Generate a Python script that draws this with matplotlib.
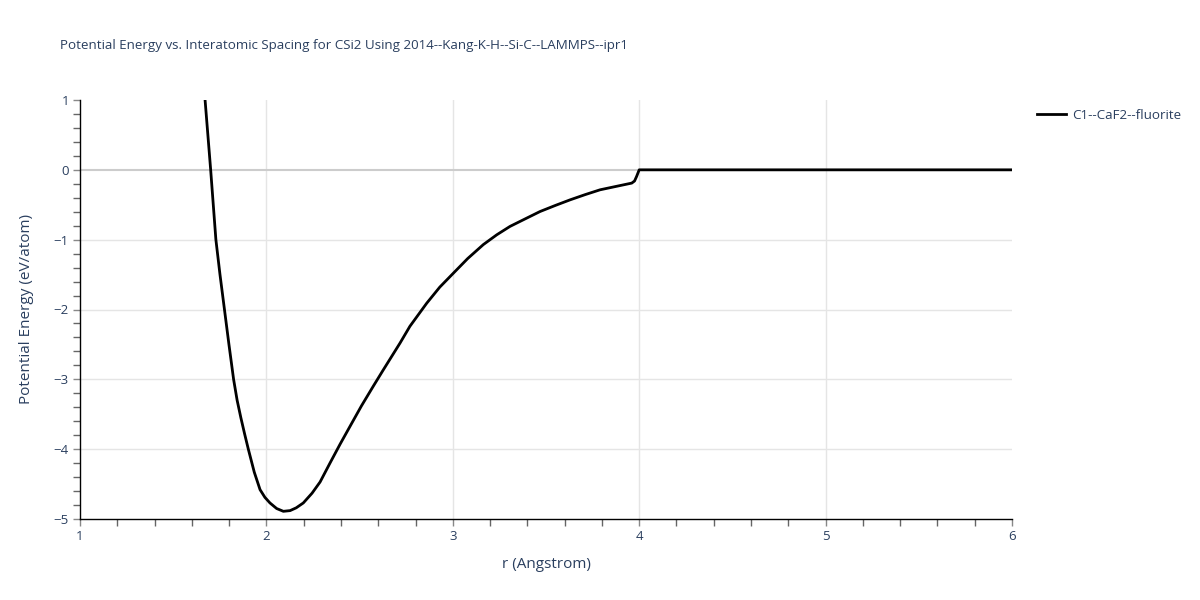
import matplotlib
matplotlib.use("Agg")
import matplotlib.pyplot as plt
from matplotlib.ticker import MultipleLocator

title = "Potential Energy vs. Interatomic Spacing for CSi2 Using 2014--Kang-K-H--Si-C--LAMMPS--ipr1"
series_name = "C1--CaF2--fluorite"

r = [1.671, 1.686, 1.701, 1.715, 1.729, 1.751, 1.775, 1.799, 1.824, 1.843, 1.863, 1.883,
     1.903, 1.935, 1.966, 1.992, 2.019, 2.055, 2.091, 2.127, 2.16, 2.198, 2.245, 2.288,
     2.341, 2.395, 2.448, 2.510, 2.573, 2.627, 2.717, 2.770, 2.860, 2.930, 3.003, 3.080,
     3.164, 3.236, 3.307, 3.390, 3.468, 3.550, 3.629, 3.710, 3.79, 3.88, 3.96, 3.975,
     3.986, 4.0, 4.5, 5.0, 5.5, 6.0]
energy = [1.0, 0.5, 0.0, -0.5, -1.0, -1.5, -2.0, -2.5, -3.0, -3.3, -3.55, -3.78,
          -4.0, -4.33, -4.58, -4.69, -4.77, -4.85, -4.89, -4.88, -4.84, -4.77, -4.63, -4.47,
          -4.20, -3.93, -3.676, -3.38, -3.10, -2.865, -2.48, -2.24, -1.91, -1.68, -1.48, -1.27,
          -1.07, -0.93, -0.81, -0.70, -0.597, -0.51, -0.43, -0.355, -0.286, -0.235, -0.19, -0.16,
          -0.095, 0.0, 0.0, 0.0, 0.0, 0.0]

x_ticks = [1, 2, 3, 4, 5, 6]
y_ticks = [1, 0, -1, -2, -3, -4, -5]
y_tick_labels = ["1", "0", "\u22121", "\u22122", "\u22123", "\u22124", "\u22125"]

plt.rcParams['font.family'] = ['Open Sans', 'DejaVu Sans']

fig = plt.figure(figsize=(12, 6), dpi=100)
ax = fig.add_axes([80/1200, 1 - 519/600, (1012-80)/1200, (519-100)/600])

text_color = "#2a3f5f"
tick_label_color = "#2a3f5f"

ax.plot(r, energy, color="black", linewidth=2, label=series_name, zorder=3,
        solid_joinstyle="round")

ax.set_xlim(1, 6)
ax.set_ylim(-5, 1)
ax.set_xticks(x_ticks)
ax.set_xticklabels([str(t) for t in x_ticks])
ax.set_yticks(y_ticks)
ax.set_yticklabels(y_tick_labels)
ax.xaxis.set_minor_locator(MultipleLocator(0.2))
ax.yaxis.set_minor_locator(MultipleLocator(0.2))

for v in x_ticks[1:-1]:
    ax.axvline(v, color="#e5e5e5", linewidth=1, zorder=1)
for v in y_ticks:
    if v == 0:
        ax.axhline(v, color="#cccccc", linewidth=1.5, zorder=1)
    elif -5 < v < 1:
        ax.axhline(v, color="#e5e5e5", linewidth=1, zorder=1)

for s in ["top", "right"]:
    ax.spines[s].set_visible(False)
ax.spines["left"].set_color("black")
ax.spines["bottom"].set_color("black")
ax.spines["left"].set_linewidth(1)
ax.spines["bottom"].set_linewidth(1)

ax.tick_params(axis="both", which="major", direction="out", length=5, width=1,
               color="#888888", labelsize=9.5, labelcolor=tick_label_color, pad=3)
ax.tick_params(axis="both", which="minor", direction="out", length=5, width=1, color="#666666")

ax.set_xlabel("r (Angstrom)", fontsize=11, color=text_color, labelpad=10)
ax.set_ylabel("Potential Energy (eV/atom)", fontsize=11, color=text_color, labelpad=14)

fig.text(60/1200, 1 - 45/600, title, fontsize=9.6, color=text_color, ha="left", va="center")

leg = ax.legend(loc="upper left", bbox_to_anchor=(1025/1200, 1 - 97/600),
                bbox_transform=fig.transFigure, frameon=False, fontsize=9.6,
                handlelength=2.2, handletextpad=0.4)
for t in leg.get_texts():
    t.set_color(text_color)

fig.savefig("out.png", dpi=100)
